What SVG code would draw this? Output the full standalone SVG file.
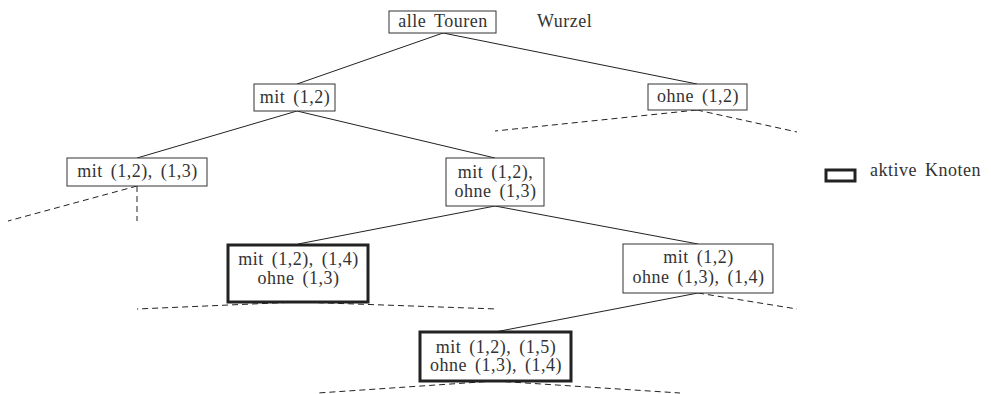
<svg xmlns="http://www.w3.org/2000/svg" width="991" height="394" viewBox="0 0 991 394">
<style>
.box{fill:#fff;stroke:#333;stroke-width:1}
.act{fill:#fff;stroke:#222;stroke-width:3}
text{font-family:"Liberation Serif","Times New Roman",serif;font-size:18px;fill:#333;text-anchor:middle;letter-spacing:0.5px;word-spacing:3px}
.e{stroke:#222;stroke-width:1;fill:none}
.d{stroke:#222;stroke-width:1;fill:none;stroke-dasharray:6 4}
</style>
<rect width="991" height="394" fill="#fff"/>
<g id="connectors">
<line class="e" x1="443" y1="33" x2="297" y2="84"/>
<line class="e" x1="443" y1="33" x2="697" y2="84"/>
<line class="e" x1="297" y1="111" x2="137" y2="158"/>
<line class="e" x1="297" y1="111" x2="495" y2="158"/>
<line class="e" x1="495" y1="206" x2="298" y2="244"/>
<line class="e" x1="495" y1="206" x2="698" y2="244"/>
<line class="e" x1="698" y1="293" x2="495" y2="332"/>
<line class="d" x1="697" y1="110" x2="495" y2="131"/>
<line class="d" x1="697" y1="110" x2="797" y2="132"/>
<line class="d" x1="137" y1="186" x2="8" y2="221"/>
<line class="d" x1="137" y1="186" x2="137" y2="221"/>
<line class="d" x1="298" y1="302" x2="137" y2="309"/>
<line class="d" x1="298" y1="302" x2="497" y2="309"/>
<line class="d" x1="698" y1="293" x2="797" y2="309"/>
<line class="d" x1="495" y1="381" x2="318" y2="393"/>
<line class="d" x1="495" y1="381" x2="680" y2="393"/>
</g>
<g id="root">
<rect class="box" x="389" y="11" width="107" height="22"/>
<text x="443" y="27">alle Touren</text>
</g>
<g id="wurzel">
<text x="537" y="27" style="text-anchor:start">Wurzel</text>
</g>
<g id="mit12">
<rect class="box" x="254" y="84" width="81" height="27"/>
<text x="295" y="103">mit (1,2)</text>
</g>
<g id="ohne12">
<rect class="box" x="648" y="84" width="99" height="26"/>
<text x="698" y="102">ohne (1,2)</text>
</g>
<g id="mit12-13">
<rect class="box" x="67" y="158" width="140" height="28"/>
<text x="137.5" y="177">mit (1,2), (1,3)</text>
</g>
<g id="mit12-ohne13">
<rect class="box" x="446" y="158" width="98" height="48"/>
<text x="495.5" y="178">mit (1,2),</text>
<text x="495.5" y="197">ohne (1,3)</text>
</g>
<g id="active1">
<rect class="act" x="228" y="245" width="140" height="57"/>
<text x="298.5" y="265">mit (1,2), (1,4)</text>
<text x="298.5" y="284">ohne (1,3)</text>
</g>
<g id="node2">
<rect class="box" x="623" y="244" width="150" height="49"/>
<text x="698.5" y="263">mit (1,2)</text>
<text x="698.5" y="283">ohne (1,3), (1,4)</text>
</g>
<g id="active2">
<rect class="act" x="420" y="332" width="151" height="49"/>
<text x="496" y="353">mit (1,2), (1,5)</text>
<text x="496" y="371">ohne (1,3), (1,4)</text>
</g>
<g id="legend">
<rect class="act" x="826" y="170" width="29" height="11"/>
<text x="870" y="176" style="text-anchor:start">aktive Knoten</text>
</g>
</svg>
